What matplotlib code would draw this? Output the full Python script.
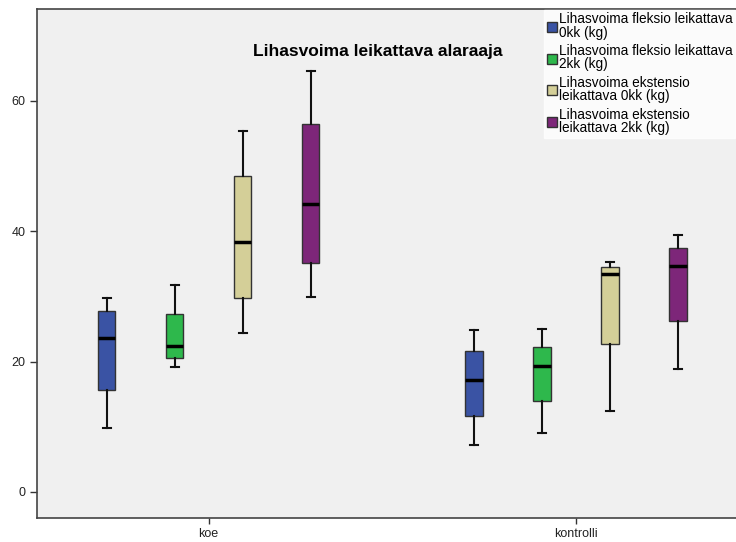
import matplotlib
matplotlib.use("Agg")
import matplotlib.pyplot as plt
from matplotlib.patches import Patch

plt.rcParams['font.family'] = ['Liberation Sans', 'DejaVu Sans']

groups = ["koe", "kontrolli"]
series = [
    "Lihasvoima fleksio leikattava\n0kk (kg)",
    "Lihasvoima fleksio leikattava\n2kk (kg)",
    "Lihasvoima ekstensio\nleikattava 0kk (kg)",
    "Lihasvoima ekstensio\nleikattava 2kk (kg)",
]
colors = ["#3a53a4", "#2eb84c", "#d4cf98", "#7d2679"]

# [koe, kontrolli] for each series
whislo = [[9.8, 7.2], [19.1, 9.05], [24.4, 12.4], [29.9, 18.8]]
q1 = [[15.65, 11.7], [20.5, 14.0], [29.8, 22.7], [35.2, 26.2]]
med = [[23.7, 17.2], [22.45, 19.3], [38.4, 33.45], [44.2, 34.6]]
q3 = [[27.8, 21.6], [27.3, 22.3], [48.5, 34.5], [56.4, 37.5]]
whishi = [[29.8, 24.9], [31.8, 25.0], [55.4, 35.3], [64.65, 39.4]]

title = "Lihasvoima leikattava alaraaja"

fig = plt.figure(figsize=(7.36, 5.42), dpi=100)
ax = fig.add_axes([0.0503, 0.0443, 0.9497, 0.9391])
ax.set_facecolor("#f0f0f0")

offsets = [-0.2776, -0.0925, 0.0925, 0.2776]
width = 0.0476
for s in range(4):
    stats = []
    pos = []
    for g in range(2):
        stats.append(dict(whislo=whislo[s][g], q1=q1[s][g], med=med[s][g],
                          q3=q3[s][g], whishi=whishi[s][g], fliers=[]))
        pos.append(g + offsets[s])
    ax.bxp(stats, positions=pos, widths=width, patch_artist=True,
           showfliers=False, manage_ticks=False,
           boxprops=dict(facecolor=colors[s], edgecolor="#333333", linewidth=1.0),
           medianprops=dict(color="black", linewidth=2.5),
           whiskerprops=dict(color="#111111", linewidth=1.5),
           capprops=dict(color="#111111", linewidth=1.5),
           capwidths=width * 0.45)

ax.set_xlim(-0.467, 1.435)
ax.set_ylim(-3.99, 74.1)
ax.set_xticks([0, 1])
ax.set_xticklabels(groups, fontsize=9)
ax.set_yticks([0, 20, 40, 60])
ax.tick_params(axis="y", length=5, width=1, color="#333333", labelsize=9, labelcolor="#222222")
ax.tick_params(axis="x", length=4, width=1, color="#333333", labelcolor="#222222")
for sp in ["left", "bottom", "top"]:
    ax.spines[sp].set_color("#444444")
    ax.spines[sp].set_linewidth(1.2)
ax.spines["right"].set_visible(False)

fig.text(0.5136, 0.905, title, ha="center", va="center", fontsize=12.5, fontweight="bold")

handles = [Patch(facecolor=c, edgecolor="#333333", label=l) for c, l in zip(colors, series)]
leg = ax.legend(handles=handles, loc="upper right", bbox_to_anchor=(1.0, 1.0),
                fontsize=9.8, frameon=True, fancybox=False, handlelength=0.75,
                handleheight=0.75, handletextpad=0.15, labelspacing=0.35,
                borderpad=0.2, borderaxespad=0.05)
leg.get_frame().set_facecolor("white")
leg.get_frame().set_edgecolor("white")
for t in leg.get_texts():
    t.set_linespacing(0.92)

fig.savefig("out.png", dpi=100)
